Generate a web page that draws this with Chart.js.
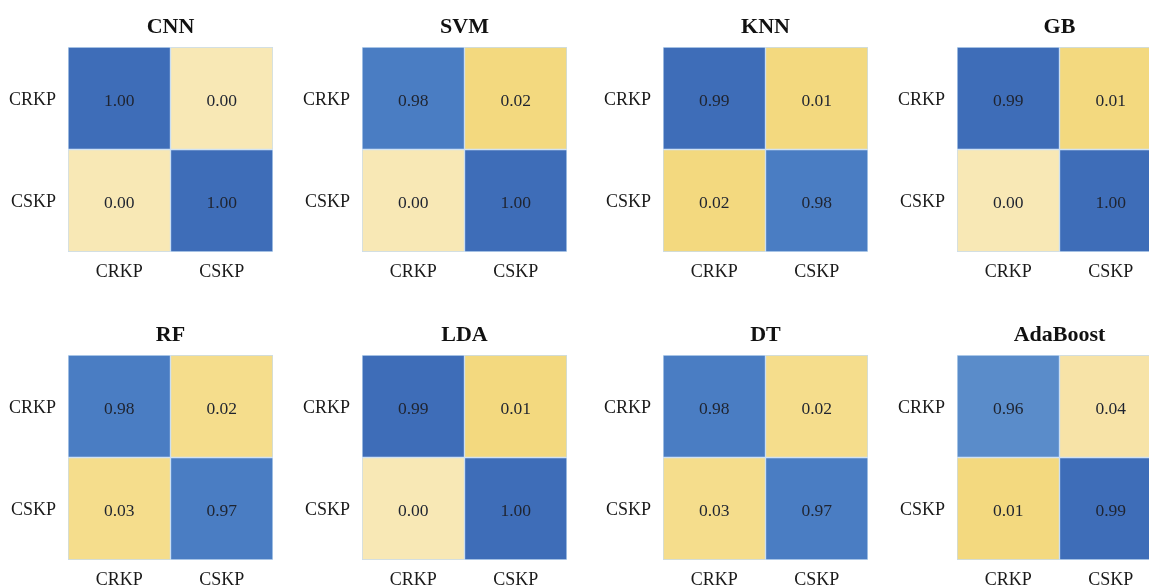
<!DOCTYPE html>
<html>
<head>
<meta charset="utf-8">
<script src="https://cdn.jsdelivr.net/npm/chart.js@4"></script>
<style>
  html, body { margin: 0; padding: 0; background: #ffffff; }
  #wrap { position: relative; width: 1149px; height: 588px; overflow: hidden; background: #ffffff; }
  #wrap canvas { position: absolute; }
</style>
</head>
<body>
<div id="wrap"></div>
<script>
// Class labels (true label rows, predicted label columns)
const classes = ['CRKP', 'CSKP'];

// Model names, in panel order
const models = ['CNN', 'SVM', 'KNN', 'GB', 'RF', 'LDA', 'DT', 'AdaBoost'];

// Normalised confusion matrices, rows = true class, columns = predicted class
const cnnValues = [[1.00, 0.00], [0.00, 1.00]];
const svmValues = [[0.98, 0.02], [0.00, 1.00]];
const knnValues = [[0.99, 0.01], [0.02, 0.98]];
const gbValues  = [[0.99, 0.01], [0.00, 1.00]];
const rfValues  = [[0.98, 0.02], [0.03, 0.97]];
const ldaValues = [[0.99, 0.01], [0.00, 1.00]];
const dtValues  = [[0.98, 0.02], [0.03, 0.97]];
const adaValues = [[0.96, 0.04], [0.01, 0.99]];

const matrices = [cnnValues, svmValues, knnValues, gbValues, rfValues, ldaValues, dtValues, adaValues];

// Cell shades for each panel (blue for the diagonal, yellow for the errors)
const DARK = '#3e6db8', MID = '#4a7dc3', LIGHT = '#5a8cca';
const PALE = '#f8e8b5', GOLD = '#f3d97f', SAND = '#f5dd8c', CREAM = '#f7e3a7';
const cellColors = [
  [[DARK, PALE], [PALE, DARK]],
  [[MID, GOLD], [PALE, DARK]],
  [[DARK, GOLD], [GOLD, MID]],
  [[DARK, GOLD], [PALE, DARK]],
  [[MID, SAND], [SAND, MID]],
  [[DARK, GOLD], [PALE, DARK]],
  [[MID, SAND], [SAND, MID]],
  [[LIGHT, CREAM], [GOLD, DARK]]
];

// Panel grid placement
const colLeft = [0, 294, 595, 889];
const rowTop = [0, 308];
const CELL = 205;
const YAXIS_W = 68, TOP_PAD = 47, XAXIS_H = 40, RIGHT_PAD = 20;
const CANVAS_W = YAXIS_W + CELL + RIGHT_PAD;
const CANVAS_H = TOP_PAD + CELL + XAXIS_H + 8;

const SERIF = "'Liberation Serif', 'Times New Roman', serif";

// Draws the panel title above the plot and the value in every cell
const cellTextPlugin = {
  id: 'cellText',
  afterDatasetsDraw(chart, args, opts) {
    const ctx = chart.ctx;
    const area = chart.chartArea;
    ctx.save();
    ctx.fillStyle = '#111';
    ctx.font = 'bold 22px ' + SERIF;
    ctx.textAlign = 'center';
    ctx.textBaseline = 'alphabetic';
    ctx.fillText(opts.title, (area.left + area.right) / 2, area.top - 14);

    ctx.font = '17.5px ' + SERIF;
    ctx.fillStyle = '#1f2430';
    chart.data.datasets.forEach((ds, di) => {
      const meta = chart.getDatasetMeta(di);
      meta.data.forEach((bar, j) => {
        const yc = (bar.y + bar.base) / 2;
        ctx.fillText(opts.values[di][j].toFixed(2), bar.x, yc + 7.5);
      });
    });
    ctx.restore();
  }
};

const wrap = document.getElementById('wrap');

models.forEach((name, p) => {
  const canvas = document.createElement('canvas');
  canvas.width = CANVAS_W;
  canvas.height = CANVAS_H;
  canvas.style.left = colLeft[p % 4] + 'px';
  canvas.style.top = rowTop[Math.floor(p / 4)] + 'px';
  wrap.appendChild(canvas);

  const values = matrices[p];
  const datasets = classes.map((rowName, r) => ({
    label: rowName,
    // each true-class row occupies one unit band on the y scale, top row first
    data: classes.map(() => [classes.length - 1 - r, classes.length - r]),
    backgroundColor: cellColors[p][r],
    borderColor: 'rgba(196, 218, 240, 0.95)',
    borderWidth: 1,
    borderSkipped: false,
    grouped: false,
    barPercentage: 1,
    categoryPercentage: 1
  }));

  new Chart(canvas, {
    type: 'bar',
    data: { labels: classes, datasets },
    options: {
      responsive: false,
      animation: false,
      devicePixelRatio: 1,
      layout: { padding: { top: TOP_PAD, right: RIGHT_PAD, left: 0, bottom: CANVAS_H - TOP_PAD - CELL - XAXIS_H } },
      plugins: {
        legend: { display: false },
        tooltip: { enabled: false },
        title: { display: false },
        cellText: { title: name, values }
      },
      scales: {
        x: {
          type: 'category',
          grid: { display: false, drawTicks: false },
          border: { display: false },
          ticks: { color: '#1a1a1a', font: { family: SERIF, size: 18 }, padding: 9, maxRotation: 0 },
          afterFit: (s) => { s.height = XAXIS_H; }
        },
        y: {
          type: 'linear',
          min: 0,
          max: classes.length,
          grid: { display: false, drawTicks: false },
          border: { display: false },
          afterBuildTicks: (s) => { s.ticks = classes.map((c, i) => ({ value: i + 0.5 })); },
          ticks: {
            autoSkip: false,
            color: '#1a1a1a',
            font: { family: SERIF, size: 18 },
            padding: 12,
            labelOffset: 2,
            callback: (v, i) => classes[classes.length - 1 - i]
          },
          afterFit: (s) => { s.width = YAXIS_W; }
        }
      }
    },
    plugins: [cellTextPlugin]
  });
});
</script>
</body>
</html>
